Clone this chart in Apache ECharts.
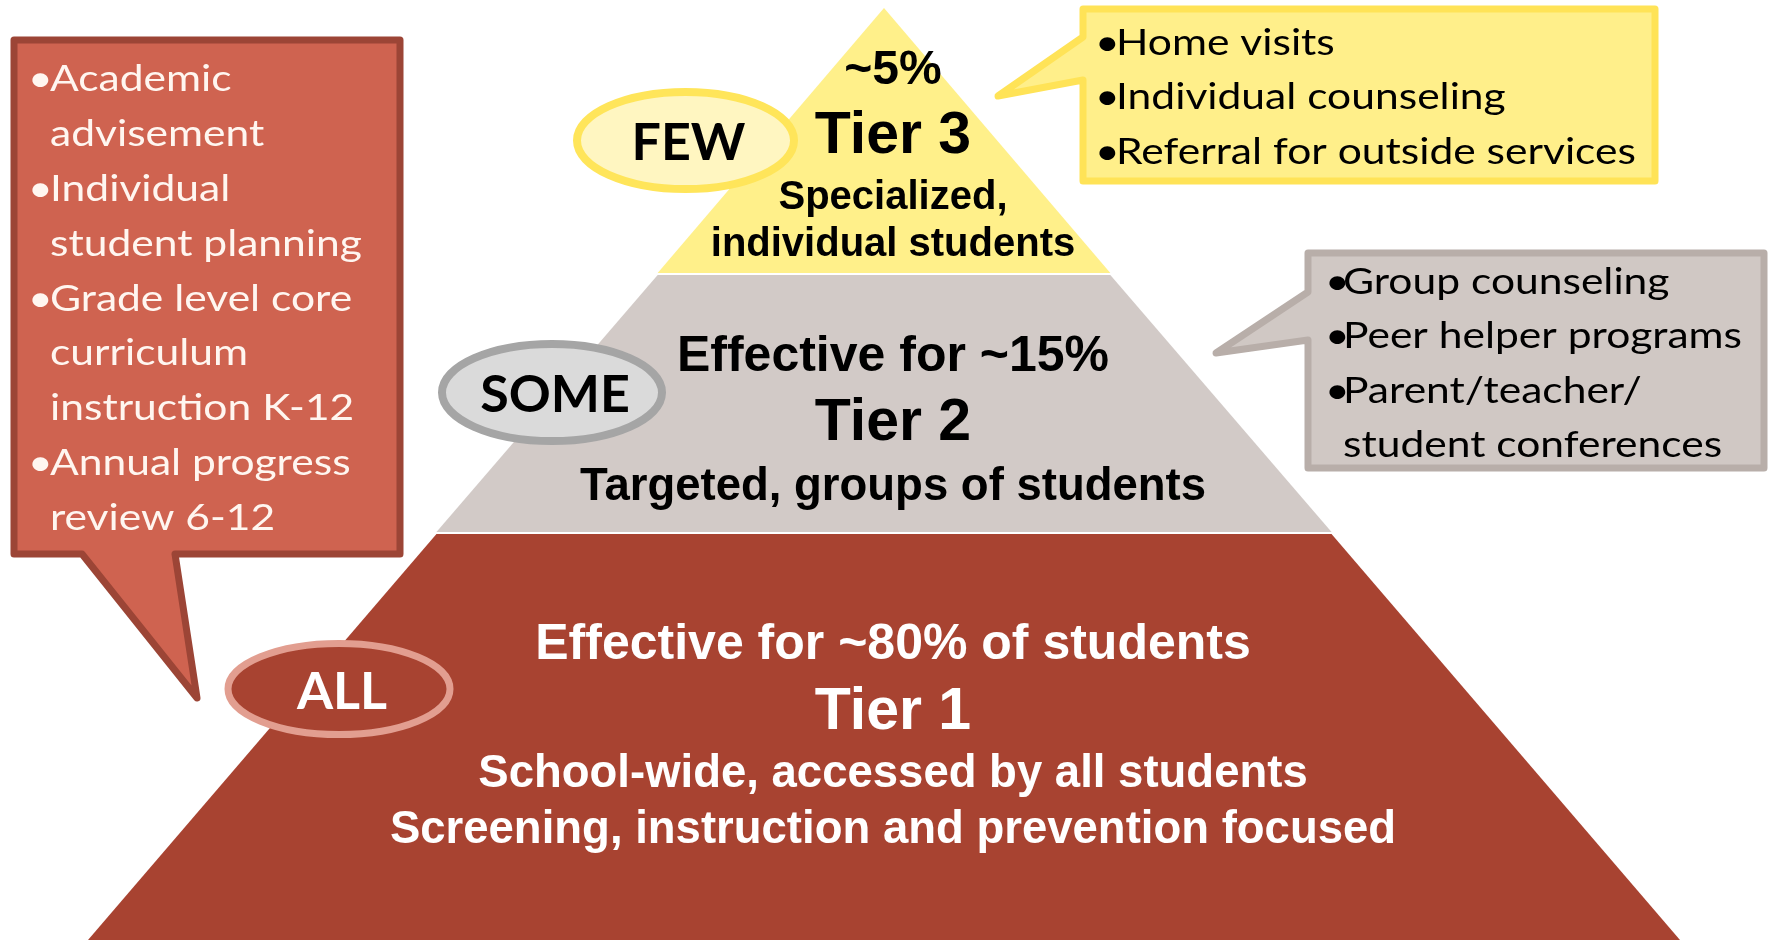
<!DOCTYPE html>
<html>
<head>
<meta charset="utf-8">
<title>Tiered support pyramid</title>
<script src="https://cdn.jsdelivr.net/npm/echarts@6/dist/echarts.min.js"></script>
<style>
    html, body {margin: 0; padding: 0; background: #fff;}
    #chart {width: 1771px; height: 941px;}
</style>
</head>
<body>
<div id="chart"></div>
<script>
// tiers, listed bottom to top
var tierNames = ['Tier 1', 'Tier 2', 'Tier 3'];
var tierReach = ['Effective for ~80% of students', 'Effective for ~15%', '~5%'];
var tierFocus = [
    ['School-wide, accessed by all students', 'Screening, instruction and prevention focused'],
    ['Targeted, groups of students'],
    ['Specialized,', 'individual students']
];
var tierAudience = ['ALL', 'SOME', 'FEW'];
// services for each tier (\n = line break as on the slide)
var tier1Services = ['Academic\nadvisement', 'Individual\nstudent planning', 'Grade level core\ncurriculum\ninstruction K-12', 'Annual progress\nreview 6-12'];
var tier2Services = ['Group counseling', 'Peer helper programs', 'Parent/teacher/\nstudent conferences'];
var tier3Services = ['Home visits', 'Individual counseling', 'Referral for outside services'];

// ---- layout / style ----
var tierColors = ['#A84331', '#D2CAC7', '#FFF08A'];
var bandHeights = [406, 257, 265]; // px, bottom to top
var bandGap = 2;
var boldFont = '"Liberation Sans", Arial, sans-serif';
var textFont = 'Lato, "Open Sans", sans-serif';

// funnel width is linear in value: depth from the apex gives straight pyramid sides
var depth = [];
var acc = 0;
for (var k = bandHeights.length - 1; k >= 0; k--) {
    acc += bandHeights[k];
    depth[k] = acc;
    acc += bandGap;
}

// [fontSize, lineHeight] for reach line (a), tier name (b), focus lines (c)
var tierText = [
    {color: '#fff', pad: [0, 0, 4, 18], a: [50, 67], b: [59, 68], c: [45.5, 56]},
    {color: '#000', pad: [33, 0, 0, 18], a: [50, 62], b: [59, 72], c: [45.5, 54]},
    {color: '#000', pad: [29, 0, 0, 18], a: [48, 58], b: [59, 75], c: [40, 47]}
];

function richFor(t) {
    function st(s) {
        return {fontFamily: boldFont, fontWeight: 'bold', color: t.color, fontSize: s[0], lineHeight: s[1]};
    }
    return {a: st(t.a), b: st(t.b), c: st(t.c)};
}

function txt(text, x, y, color, font, align) {
    return {
        type: 'text', z: 60,
        style: {
            text: text, x: x, y: y, fill: color, font: font,
            textAlign: align || 'left', textVerticalAlign: 'middle',
            align: align || 'left', verticalAlign: 'middle'
        }
    };
}

// bullet list, stretched a little sideways like the slide text
function bulletList(items, bulletX, textX, firstY, pitch, color) {
    var sx = 1.15;
    var font = '37px ' + textFont;
    var children = [];
    var row = 0;
    items.forEach(function (item) {
        item.split('\n').forEach(function (line, j) {
            var y = firstY + pitch * row;
            if (j === 0) children.push(txt('\u2022', 0, y, color, font));
            children.push(txt(line, (textX - bulletX) / sx, y, color, font));
            row++;
        });
    });
    return {type: 'group', x: bulletX, y: 0, scaleX: sx, z: 60, children: children};
}

function callout(points, fill, stroke) {
    return {
        type: 'polygon', z: 50,
        shape: {points: points},
        style: {fill: fill, stroke: stroke, lineWidth: 7, lineJoin: 'round'}
    };
}

function badge(cx, cy, rx, ry, fill, stroke, lw, label, color) {
    return [
        {type: 'ellipse', z: 50, shape: {cx: cx, cy: cy, rx: rx, ry: ry},
            style: {fill: fill, stroke: stroke, lineWidth: lw}},
        txt(label, cx + 3, cy + 3, color, 'bold 52px ' + textFont, 'center')
    ];
}

var graphics = [].concat(
    callout([[14, 40], [400, 40], [400, 554], [175, 554], [197, 698], [82, 554], [14, 554]], '#CF6350', '#9C4536'),
    callout([[1083, 9], [1655, 9], [1655, 181], [1083, 181], [1083, 80], [998, 96], [1083, 37]], '#FFEF8A', '#FFE357'),
    callout([[1308, 253], [1764, 253], [1764, 468], [1308, 468], [1308, 340], [1216, 353], [1308, 292]], '#D0C8C4', '#B8AEA9'),
    bulletList(tier1Services, 28, 50, 79.5, 54.8, '#FFF6F0'),
    bulletList(tier3Services, 1095, 1116, 43, 54.5, '#000'),
    bulletList(tier2Services, 1325, 1343, 282, 54.5, '#000'),
    badge(339, 689, 111, 45.5, '#A84331', '#E29E90', 7, tierAudience[0], '#fff'),
    badge(552, 392.5, 110, 48.5, '#DADADA', '#A5A5A5', 8, tierAudience[1], '#000'),
    badge(685.5, 140.5, 108.5, 48.5, '#FFF6C1', '#FFE55A', 8, tierAudience[2], '#000')
);

var chart = echarts.init(document.getElementById('chart'));
chart.setOption({
    animation: false,
    backgroundColor: '#fff',
    series: [{
        type: 'funnel',
        sort: 'ascending',
        left: 88,
        top: 8,
        width: 1592,
        height: 932,
        min: 0,
        max: depth[0],
        minSize: '0%',
        maxSize: '100%',
        gap: bandGap,
        silent: true,
        emphasis: {disabled: true},
        itemStyle: {borderWidth: 0},
        labelLine: {show: false},
        label: {
            show: true,
            position: 'inside',
            formatter: function (p) {
                var i = p.dataIndex;
                var lines = ['{a|' + tierReach[i] + '}', '{b|' + tierNames[i] + '}'];
                tierFocus[i].forEach(function (t) { lines.push('{c|' + t + '}'); });
                return lines.join('\n');
            }
        },
        data: tierNames.map(function (name, i) {
            return {
                name: name,
                value: depth[i],
                itemStyle: {color: tierColors[i], height: bandHeights[i]},
                label: {rich: richFor(tierText[i]), padding: tierText[i].pad}
            };
        })
    }],
    graphic: graphics
});
</script>
</body>
</html>
